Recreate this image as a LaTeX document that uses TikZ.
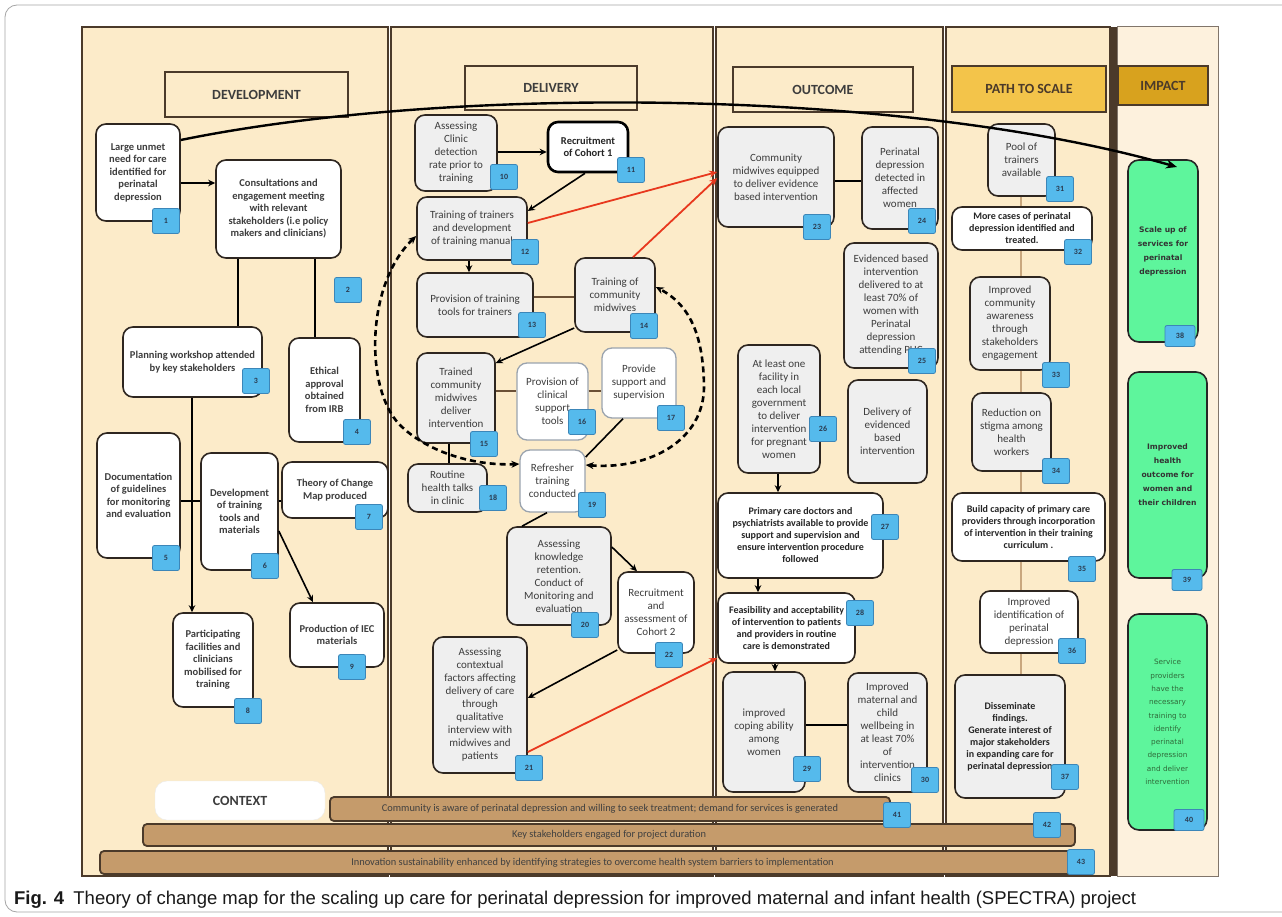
\documentclass[tikz,border=0pt]{standalone}
\usepackage{fontspec}
\setmainfont{Carlito}
\newfontfamily\capfont{Liberation Sans}
\newfontfamily\vfont{DejaVu Sans}
\usepackage{graphicx}
\usetikzlibrary{arrows.meta,calc}
\definecolor{beige}{HTML}{FCEBC9}
\definecolor{impbg}{HTML}{FDF1DD}
\definecolor{colb}{HTML}{4B3A2A}
\definecolor{nodeb}{HTML}{2E2620}
\definecolor{gfill}{HTML}{EFEFEF}
\definecolor{lightb}{HTML}{9AA3AE}
\definecolor{badgef}{HTML}{55BAEC}
\definecolor{badgeb}{HTML}{3C86B8}
\definecolor{badget}{HTML}{2A3B50}
\definecolor{txt}{HTML}{3D3D3D}
\definecolor{gold}{HTML}{F3C44A}
\definecolor{dgold}{HTML}{D8A21E}
\definecolor{mint}{HTML}{5EF59C}
\definecolor{tanbar}{HTML}{C59B6B}
\definecolor{tanln}{HTML}{C9A77E}
\definecolor{brln}{HTML}{6B5036}
\definecolor{redln}{HTML}{E8381E}
\definecolor{dgreen}{HTML}{2F6B3A}
\newcommand{\mkbox}[7]{\node[#2, minimum width={(#5-#3)*1pt}, minimum height={(#6-#4)*1pt}] (#1) at ({(#3+#5)/2},{(#4+#6)/2}) {#7};}
\newcommand{\mkbadge}[4][badge]{\node[#1] (b#4) at (#2,#3) {#4};}
\begin{document}
\begin{tikzpicture}[x=1pt,y=-1pt,
  box/.style={draw=nodeb, line width=1.6pt, rounded corners=10pt, fill=white, align=center, text=txt, inner sep=1pt, font=\fontsize{11}{13}\selectfont},
  gbox/.style={box, fill=gfill},
  dbox/.style={box, font=\bfseries\fontsize{10.5}{12.5}\selectfont},
  lbox/.style={box, draw=lightb, line width=1.3pt},
  bbox/.style={box, font=\bfseries\fontsize{10}{12}\selectfont, text=black!85},
  gbbox/.style={bbox, fill=gfill},
  cbox/.style={box, line width=2.6pt, draw=black, font=\bfseries\fontsize{10.5}{12.5}\selectfont, text=black!85},
  ibox/.style={box, fill=mint, draw=black!85, line width=1.6pt, rounded corners=11pt, font=\vfont\bfseries\fontsize{7.6}{14}\selectfont, text=black!80},
  iibox/.style={ibox, font=\vfont\fontsize{7.3}{13.3}\selectfont, text=dgreen},
  title/.style={draw=colb, line width=1.8pt, fill=beige, font=\bfseries\fontsize{14}{16}\selectfont, text=txt},
  badge/.style={draw=badgeb, line width=0.8pt, fill=badgef, rounded corners=2pt, minimum width=27pt, minimum height=25pt, inner sep=0pt, font=\bfseries\fontsize{8}{9}\selectfont, text=badget},
  ibadge/.style={badge, minimum width=30pt, minimum height=21pt},
  bar/.style={draw=colb, line width=1.8pt, fill=tanbar, rounded corners=4pt, inner sep=1pt, font=\fontsize{10.4}{11}\selectfont, text=black!75},
  arr/.style={line width=1.6pt, -{Stealth[length=7pt,width=6.5pt]}},
  ln/.style={line width=1.6pt},
  bln/.style={line width=2.6pt, draw=brln},
  tln/.style={line width=2.4pt, draw=tanln},
  rarr/.style={line width=1.8pt, draw=redln, -{Stealth[length=8pt,width=7pt]}},
  bigarr/.style={line width=2.4pt, -{Stealth[length=11pt,width=9pt]}},
  darr/.style={line width=2.6pt, dash pattern=on 6pt off 4pt, {Stealth[length=8pt,width=7pt]}-{Stealth[length=8pt,width=7pt]}}
]
\useasboundingbox (0,0) rectangle (1282,917);
\fill[white] (0,0) rectangle (1282,917);
% outer frame
\draw[black!35, line width=0.8pt, rounded corners=12pt] (5,5) rectangle (1300,912);
% columns
\draw[colb, line width=1.5pt, fill=beige] (82,27) rectangle (388,876);
\draw[colb, line width=1.5pt, fill=beige] (391,27) rectangle (713,876);
\draw[colb, line width=1.5pt, fill=beige] (716,27) rectangle (943,876);
\draw[colb, line width=1.5pt, fill=beige] (946,27) rectangle (1110,876);
\fill[colb] (1110,27) rectangle (1117,876);
\draw[colb!70, line width=1pt, fill=impbg] (1117,27) rectangle (1218,876);
% titles
\mkbox{tdev}{title}{165}{72}{348}{117}{DEVELOPMENT}
\mkbox{tdel}{title}{465}{66}{637}{110}{DELIVERY}
\mkbox{tout}{title}{733}{67}{913}{112}{OUTCOME}
\mkbox{tpath}{title, fill=gold, text=colb}{952}{66}{1106}{112}{PATH TO SCALE}
\mkbox{timp}{title, fill=dgold, text=colb}{1118}{66}{1208}{105}{IMPACT}
% development
\mkbox{n1}{dbox}{96}{124}{180}{221}{Large unmet\\ need  for care\\ identified for\\ perinatal\\ depression}
\mkbadge{166}{221}{1}
\mkbox{n2}{dbox}{216}{160}{341}{258}{Consultations  and\\ engagement meeting\\ with relevant\\ stakeholders (i.e policy\\ makers and clinicians)}
\mkbadge{348}{290}{2}
\mkbox{n3}{dbox}{123}{327}{262}{397}{Planning  workshop  attended\\ by key stakeholders}
\mkbadge{256}{381}{3}
\mkbox{n4}{dbox}{289}{338}{360}{442}{Ethical\\ approval\\ obtained\\ from IRB}
\mkbadge{357}{432}{4}
\mkbox{n5}{dbox}{97}{433}{180}{558}{Documentation\\ of guidelines\\ for monitoring\\ and evaluation}
\mkbadge{166}{558}{5}
\mkbox{n6}{dbox}{201}{453}{278}{570}{Development\\ of training\\ tools and\\ materials}
\mkbadge{265}{566}{6}
\mkbox{n7}{dbox}{282}{462}{388}{518}{Theory of Change\\ Map produced}
\mkbadge{369}{517}{7}
\mkbox{n8}{dbox}{173}{613}{253}{707}{Participating\\ facilities and\\ clinicians\\ mobilised for\\ training}
\mkbadge{248}{711}{8}
\mkbox{n9}{dbox}{290}{603}{384}{667}{Production  of IEC\\ materials}
\mkbadge{352}{667}{9}
% delivery
\mkbox{n10}{gbox}{415}{115}{497}{191}{Assessing\\ Clinic\\ detection\\ rate prior to\\ training}
\mkbadge{504}{177}{10}
\mkbox{n11}{cbox}{548}{122}{628}{172}{Recruitment\\ of Cohort  1}
\mkbadge{631}{170}{11}
\mkbox{n12}{gbox}{417}{197}{527}{260}{Training of trainers\\ and development\\ of training manual}
\mkbadge{525}{252}{12}
\mkbox{n13}{gbox}{417}{273}{533}{337}{Provision of training\\ tools for trainers}
\mkbadge{532}{325}{13}
\mkbox{n14}{gbox}{575}{258}{655}{332}{Training of\\ community\\ midwives}
\mkbadge{644}{326}{14}
\mkbox{n15}{gbox}{417}{353}{495}{443}{Trained\\ community\\ midwives\\ deliver\\ intervention}
\mkbadge{484}{444}{15}
\mkbox{n16}{lbox}{517}{363}{588}{440}{Provision of\\ clinical\\ support\\ tools}
\mkbadge{582}{422}{16}
\mkbox{n17}{lbox}{602}{348}{676}{418}{Provide\\ support and\\ supervision}
\mkbadge{671}{418}{17}
\mkbox{n18}{gbox}{408}{464}{487}{512}{Routine\\ health talks\\ in clinic}
\mkbadge{493}{498}{18}
\mkbox{n19}{lbox}{520}{450}{585}{512}{Refresher\\ training\\ conducted}
\mkbadge{592}{505}{19}
\mkbox{n20}{gbox}{507}{527}{611}{625}{Assessing\\ knowledge\\ retention.\\ Conduct of\\ Monitoring and\\ evaluation}
\mkbadge{585}{625}{20}
\mkbox{n22}{box}{618}{572}{694}{653}{Recruitment\\ and\\ assessment of\\ Cohort  2}
\mkbadge{669}{655}{22}
\mkbox{n21}{gbox}{433}{637}{527}{773}{Assessing\\ contextual\\ factors affecting\\ delivery of care\\ through\\ qualitative\\ interview with\\ midwives and\\ patients}
\mkbadge{529}{768}{21}
% outcome
\mkbox{n23}{gbox}{718}{127}{834}{227}{\\[-4pt] Community\\ midwives equipped\\ to deliver evidence\\ based intervention}
\mkbadge{817}{227}{23}
\mkbox{n24}{gbox}{862}{127}{938}{229}{Perinatal\\ depression\\ detected  in\\ affected\\ women}
\mkbadge{922}{221}{24}
\mkbox{n25}{gbox}{844}{243}{938}{368}{Evidenced based\\ intervention\\ delivered to at\\ least 70\% of\\ women  with\\ Perinatal\\ depression\\ attending PHC}
\mkbadge{922}{361}{25}
\mkbox{n26}{gbox}{738}{345}{820}{473}{At least one\\ facility in\\ each local\\ government\\ to deliver\\ intervention\\ for pregnant\\ women}
\mkbadge{823}{429}{26}
\mkbox{n26b}{gbox}{848}{380}{927}{483}{Delivery of\\ evidenced\\ based\\ intervention}
\mkbox{n27}{bbox}{718}{493}{883}{578}{Primary care doctors  and\\ psychiatrists available to  provide\\ support  and supervision and\\ ensure  intervention  procedure\\ followed}
\mkbadge{885}{527}{27}
\mkbox{n28}{bbox}{718}{593}{855}{663}{Feasibility and acceptability\\ of intervention  to patients\\ and providers  in routine\\ care is demonstrated}
\mkbadge{860}{613}{28}
\mkbox{n29}{gbox}{723}{672}{805}{792}{improved\\ coping ability\\ among\\ women}
\mkbadge{807}{769}{29}
\mkbox{n30}{gbox}{848}{673}{927}{792}{Improved\\ maternal and\\ child\\ wellbeing in\\ at least 70\%\\ of\\ intervention\\ clinics}
\mkbadge{925}{780}{30}
% path to scale
\mkbox{n31}{gbox}{988}{124}{1055}{196}{Pool of\\ trainers\\ available}
\mkbadge{1060}{189}{31}
\mkbox{n32}{bbox}{952}{207}{1092}{250}{More cases of perinatal\\ depression  identified and\\ treated.}
\mkbadge{1078}{252}{32}
\mkbox{n33}{gbox}{970}{277}{1050}{370}{Improved\\ community\\ awareness\\ through\\ stakeholders\\ engagement}
\mkbadge{1056}{375}{33}
\mkbox{n34}{gbox}{972}{393}{1051}{471}{Reduction on\\ stigma among\\ health\\ workers}
\mkbadge{1056}{471}{34}
\mkbox{n35}{bbox}{952}{493}{1105}{561}{Build capacity of primary care\\ providers through  incorporation\\ of intervention  in their training\\ curriculum  .}
\mkbadge{1082}{569}{35}
\mkbox{n36}{box}{980}{591}{1078}{653}{Improved\\ identification  of\\ perinatal\\ depression}
\mkbadge{1072}{651}{36}
\mkbox{n37}{gbbox}{955}{675}{1065}{798}{Disseminate\\ findings.\\ Generate interest of\\ major stakeholders\\ in expanding care for\\ perinatal depression}
\mkbadge{1065}{777}{37}
\draw[tln] (n31.south -| 1021,0) -- (n32.north -| 1021,0);
\draw[tln] (n32.south -| 1021,0) -- (n33.north -| 1021,0);
\draw[tln] (n33.south -| 1021,0) -- (n34.north -| 1021,0);
\draw[tln] (n34.south -| 1021,0) -- (n35.north -| 1021,0);
\draw[tln] (n35.south -| 1021,0) -- (n36.north -| 1021,0);
\draw[tln] (n36.south -| 1021,0) -- (n37.north -| 1021,0);
% impact
\mkbox{n38}{ibox}{1128}{160}{1198}{342}{Scale up of\\ services for\\ perinatal\\ depression}
\mkbadge[ibadge]{1180}{336}{38}
\mkbox{n39}{ibox}{1128}{372}{1207}{578}{Improved\\ health\\ outcome for\\ women and\\ their children}
\mkbadge[ibadge]{1187}{580}{39}
\mkbox{n40}{iibox}{1128}{614}{1207}{830}{Service\\ providers\\ have the\\ necessary\\ training to\\ identify\\ perinatal\\ depression\\ and deliver\\ intervention}
\mkbadge[ibadge]{1189}{820}{40}
% development connectors
\draw[arr] (n1.east |- 0,183) -- (n2.west |- 0,183);
\draw[ln] (n2.south -| 238,0) -- (n3.north -| 238,0);
\draw[ln] (n2.south -| 315,0) -- (n4.north -| 315,0);
\draw[arr] (n3.south -| 192,0) -- (n8.north -| 192,0);
\draw[ln] (n5.east |- 0,501) -- (n6.west |- 0,501);
\draw[ln] (n6.east |- 0,501) -- (n7.west |- 0,501);
\draw[arr] (n6.east |- 0,531) -- (n9.north -| 313,0);
% delivery connectors
\draw[arr] (n10.east |- 0,152) -- (n11.west |- 0,152);
\draw[arr] (n11.south -| 585,0) -- (n12.east |- 0,211);
\draw[arr] (n12.south -| 469,0) -- (n13.north -| 469,0);
\draw[bln] (n13.east |- 0,297) -- (n14.west |- 0,297);
\draw[arr] (n14.west |- 0,328) -- (n15.east |- 0,363);
\draw[bln] (n15.east |- 0,391) -- (n16.west |- 0,391);
\draw[bln] (n16.east |- 0,391) -- (n17.west |- 0,391);
\draw[ln] (n17.south -| 623,0) -- (n19.east |- 0,457);
\draw[ln] (n15.south -| 449,0) -- (n18.north -| 449,0);
\draw[ln] (n19.south -| 547,0) -- (n20.north -| 522,0);
\draw[arr] (n20.east |- 0,547) -- (n22.north -| 637,0);
\draw[arr] (n22.west |- 0,650) -- (n21.east |- 0,698);
% outcome connectors
\draw[ln] (n23.east |- 0,181) -- (n24.west |- 0,181);
\draw[arr] (n26.south -| 778,0) -- (n27.north -| 778,0);
\draw[arr] (n27.south -| 758,0) -- (n28.north -| 758,0);
\draw[arr] (n28.south -| 775,0) -- (n29.north -| 775,0);
\draw[ln] (n29.east |- 0,725) -- (n30.west |- 0,725);
% context
\node[fill=white, draw=black!8, rounded corners=12pt, minimum width=170pt, minimum height=39pt, font=\bfseries\fontsize{14}{16}\selectfont, text=txt] (ctx) at (240,800.5) {CONTEXT};
\mkbox{bar41}{bar}{330}{797}{890}{821}{Community is aware of perinatal  depression and willing to seek treatment;  demand for services is generated}
\mkbox{bar42}{bar}{143}{824}{1075}{846}{Key stakeholders engaged for project duration}
\mkbox{bar43}{bar}{100}{851}{1085}{874}{Innovation  sustainability  enhanced  by identifying strategies to overcome health system barriers to implementation}
\mkbadge{897}{815}{41}
\mkbadge{1047}{825}{42}
\mkbadge{1081}{862}{43}
% big arrow
\coordinate (e38) at (1177,167);
\draw[bigarr] (n1.east |- 0,140) .. controls (450,85) and (900,88) .. (e38);
% dashed loop
\coordinate (dl) at (400,425);
\coordinate (dr) at (704,385);
\draw[darr] (n12.west |- 0,236) .. controls (365,285) and (365,390) .. (dl) .. controls (425,450) and (470,466) .. (n19.west |- 0,464);
\draw[darr] (n19.east |- 0,465) .. controls (650,470) and (705,440) .. (dr) .. controls (703,335) and (690,305) .. (n14.east |- 0,287);
% red arrows
\draw[rarr] (n12.east |- 0,223) -- (n23.west |- 0,172);
\draw[rarr] (n14.north -| 633,0) -- (n23.west |- 0,178);
\draw[rarr] (n21.east |- 0,752) -- (n28.west |- 0,658);
% caption
\node[anchor=base west, inner sep=0pt] (cap) at (14,904) {\resizebox{1122pt}{!}{\capfont\color{black!90}\textbf{Fig. 4}\enspace Theory of change map for the scaling up care for perinatal depression for improved maternal and infant health (SPECTRA) project}};
\end{tikzpicture}
\end{document}
